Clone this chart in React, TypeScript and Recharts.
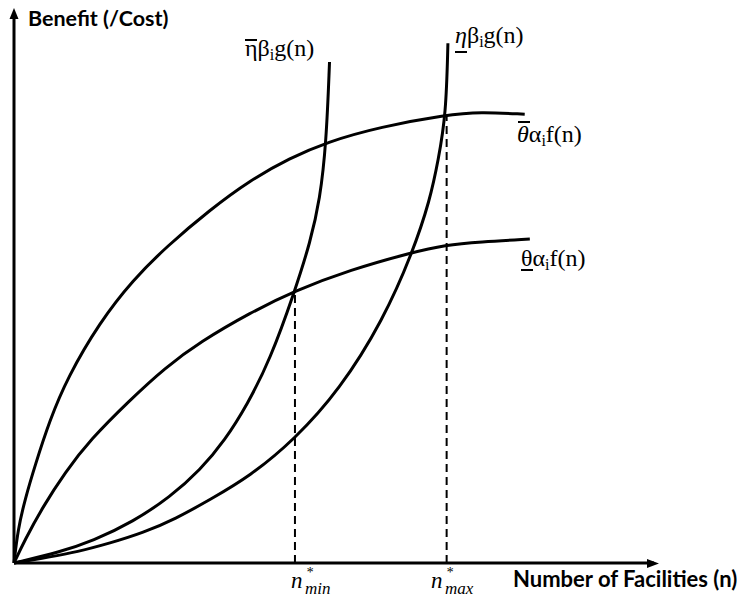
import React from "react";
import { LineChart, Line, XAxis, YAxis } from "recharts";

// curve points (x = n, y = benefit/cost)
// upper concave: theta-bar * alpha_i * f(n)
const thetaHiX = [0, 0.06, 0.17, 0.33, 0.56, 0.83, 1.34, 1.86, 2.39, 3.06, 3.69, 4.31, 4.88, 5.72, 6.77, 7.28, 7.98];
const thetaHiY = [0, 0.6, 1.15, 1.78, 2.6, 3.36, 4.38, 5.15, 5.76, 6.42, 6.96, 7.36, 7.65, 7.93, 8.15, 8.2, 8.16];

// lower concave: theta-underbar * alpha_i * f(n)
const thetaLoX = [0, 0.17, 0.45, 0.8, 1.19, 1.81, 2.36, 2.91, 3.69, 4.39, 5.25, 6.23, 6.73, 7.28, 8.06];
const thetaLoY = [0, 0.42, 1.02, 1.65, 2.24, 2.96, 3.55, 4.02, 4.55, 4.95, 5.33, 5.65, 5.78, 5.84, 5.89];

// left convex: eta-bar * beta_i * g(n)
const etaHiX = [0, 0.72, 1.23, 1.86, 2.44, 2.91, 3.3, 3.64, 4.0, 4.39, 4.63, 4.78, 4.88, 4.93];
const etaHiY = [0, 0.2, 0.4, 0.75, 1.2, 1.69, 2.24, 2.87, 3.69, 4.95, 5.84, 6.6, 7.65, 9.11];

// right convex: eta-underbar * beta_i * g(n)
const etaLoX = [0, 0.56, 0.98, 1.5, 2.02, 2.52, 3.06, 3.69, 4.38, 5.09, 5.77, 6.23, 6.5, 6.63, 6.75, 6.78];
const etaLoY = [0, 0.11, 0.2, 0.36, 0.55, 0.8, 1.15, 1.58, 2.24, 3.15, 4.42, 5.65, 6.6, 7.33, 8.15, 9.45];

// n*_min and n*_max (where the dashed drop lines sit)
const nMin = { x: 4.39, y: 4.95 };
const nMax = { x: 6.76, y: 8.15 };

const toPts = (xs: number[], ys: number[]) => xs.map((x, i) => ({ x, y: ys[i] }));

const curves = [
  toPts(thetaHiX, thetaHiY),
  toPts(thetaLoX, thetaLoY),
  toPts(etaHiX, etaHiY),
  toPts(etaLoX, etaLoY),
];

const drops = [
  [{ x: nMin.x, y: 0 }, { x: nMin.x, y: nMin.y }],
  [{ x: nMax.x, y: 0 }, { x: nMax.x, y: nMax.y }],
];

const serif = "'Liberation Serif', serif";
const sans = "Lato, 'Open Sans', sans-serif";

export default function App() {
  return (
    <div style={{ position: "relative", width: 745, height: 606, marginLeft: -8, marginTop: -8, background: "#fff" }}>
      <LineChart width={745} height={606} margin={{ top: 13, right: 91, bottom: 42, left: 13 }}>
        <XAxis
          dataKey="x"
          type="number"
          domain={[0, 10]}
          tick={false}
          tickLine={false}
          height={1}
          axisLine={{ stroke: "#000", strokeWidth: 3 }}
        />
        <YAxis
          dataKey="y"
          type="number"
          domain={[0, 10]}
          tick={false}
          tickLine={false}
          width={1}
          axisLine={{ stroke: "#000", strokeWidth: 3 }}
        />
        {curves.map((pts, i) => (
          <Line
            key={"c" + i}
            data={pts}
            dataKey="y"
            type="basis"
            stroke="#000"
            strokeWidth={3}
            dot={false}
            activeDot={false}
            isAnimationActive={false}
          />
        ))}
        {drops.map((pts, i) => (
          <Line
            key={"d" + i}
            data={pts}
            dataKey="y"
            type="linear"
            stroke="#000"
            strokeWidth={2}
            strokeDasharray="8 5"
            dot={false}
            activeDot={false}
            isAnimationActive={false}
          />
        ))}
      </LineChart>

      <svg width={745} height={606} style={{ position: "absolute", left: 0, top: 0, pointerEvents: "none" }}>
        {/* arrow heads */}
        <polygon points="14,8 9.5,19 18.5,19" fill="#000" />
        <polygon points="659,563.5 647,559 647,568" fill="#000" />

        <text x={28} y={26} fontFamily={sans} fontWeight={700} fontSize={21.5} fill="#000">
          Benefit (/Cost)
        </text>
        <text x={513} y={587} fontFamily={sans} fontWeight={700} fontSize={22} fill="#000">
          Number of Facilities (n)
        </text>

        {/* curve labels */}
        <g fontFamily={serif} fill="#000">
          <text x={245} y={56} fontSize={24}>
            <tspan>η</tspan>
            <tspan>β</tspan>
            <tspan fontSize={16} dy={4}>i</tspan>
            <tspan dy={-4}>g(n)</tspan>
          </text>
          <rect x={245} y={39} width={12} height={2} />

          <text x={455} y={43} fontSize={24}>
            <tspan fontStyle="italic">η</tspan>
            <tspan>β</tspan>
            <tspan fontSize={16} dy={4}>i</tspan>
            <tspan dy={-4}>g(n)</tspan>
          </text>
          <rect x={455} y={51} width={12} height={2} />

          <text x={517} y={142} fontSize={24}>
            <tspan fontStyle="italic">θ</tspan>
            <tspan>α</tspan>
            <tspan fontSize={16} dy={4}>i</tspan>
            <tspan dy={-4}>f(n)</tspan>
          </text>
          <rect x={518} y={121} width={12} height={2} />

          <text x={521} y={266} fontSize={24}>
            <tspan>θ</tspan>
            <tspan>α</tspan>
            <tspan fontSize={16} dy={4}>i</tspan>
            <tspan dy={-4}>f(n)</tspan>
          </text>
          <rect x={521} y={269} width={12} height={2} />

          <text x={291} y={588} fontSize={23} fontStyle="italic">n</text>
          <text x={306} y={577} fontSize={14} fontStyle="italic">*</text>
          <text x={305} y={594} fontSize={17} fontStyle="italic">min</text>

          <text x={431} y={588} fontSize={23} fontStyle="italic">n</text>
          <text x={446} y={577} fontSize={14} fontStyle="italic">*</text>
          <text x={445} y={594} fontSize={17} fontStyle="italic">max</text>
        </g>
      </svg>
    </div>
  );
}
